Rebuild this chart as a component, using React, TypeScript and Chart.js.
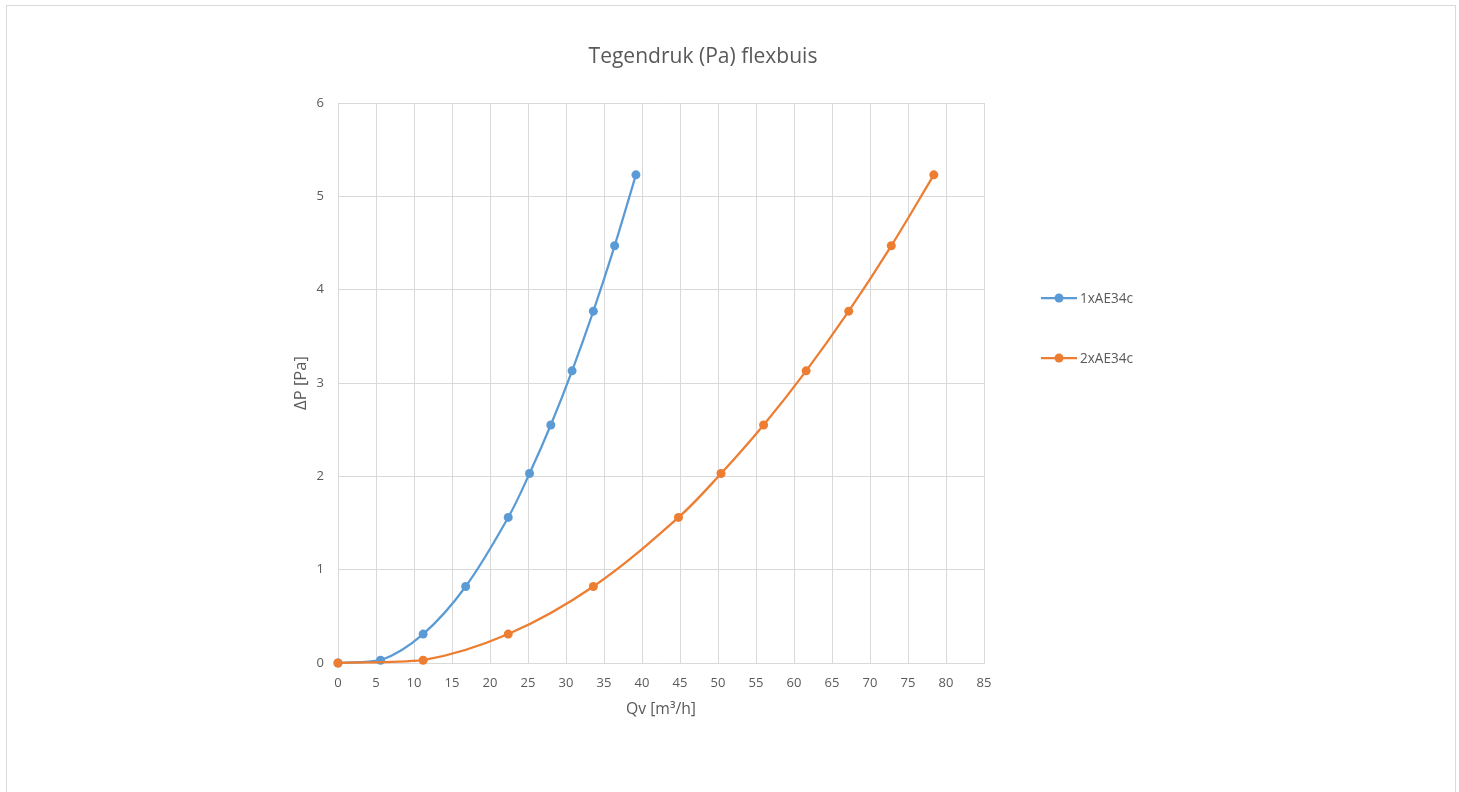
import React, { useEffect, useRef } from "react";
import { Chart, registerables } from "chart.js";

Chart.register(...registerables);

const chartTitle = "Tegendruk (Pa) flexbuis";
const xTitle = "Qv [m³/h]";
const yTitle = "ΔP [Pa]";
const seriesNames = ["1xAE34c", "2xAE34c"];
const seriesColors = ["#5b9bd5", "#ed7d31"];

const qv1 = [0, 5.6, 11.2, 16.8, 22.4, 25.2, 28.0, 30.8, 33.6, 36.4, 39.2];
const dp1 = [0, 0.03, 0.31, 0.82, 1.56, 2.03, 2.55, 3.13, 3.77, 4.47, 5.23];
const qv2 = [0, 11.2, 22.4, 33.6, 44.8, 50.4, 56.0, 61.6, 67.2, 72.8, 78.4];
const dp2 = [0, 0.03, 0.31, 0.82, 1.56, 2.03, 2.55, 3.13, 3.77, 4.47, 5.23];

const xMin = 0, xMax = 85, xStep = 5;
const yMin = 0, yMax = 6, yStep = 1;

const FONT = "'Open Sans', 'Liberation Sans', Arial, sans-serif";
const TEXT = "#595959";

const W = 1459, H = 792;
const AREA = { left: 338, right: 984, top: 103, bottom: 663 };

function fitFont(ctx: CanvasRenderingContext2D, text: string, target: number) {
  ctx.font = `20px ${FONT}`;
  const w = ctx.measureText(text).width;
  const size = (20 * target) / w;
  ctx.font = `${size}px ${FONT}`;
}

export default function App() {
  const ref = useRef<HTMLCanvasElement>(null);

  useEffect(() => {
    const canvas = ref.current!;
    const overlay = {
      id: "overlay",
      afterDraw(chart: any) {
        const ctx = chart.ctx as CanvasRenderingContext2D;
        const ca = chart.chartArea;
        ctx.save();
        ctx.fillStyle = TEXT;
        ctx.textAlign = "center";
        ctx.textBaseline = "middle";
        // title
        fitFont(ctx, chartTitle, 229);
        ctx.fillText(chartTitle, 703, 57);
        // axis titles
        fitFont(ctx, xTitle, 70);
        ctx.fillText(xTitle, (ca.left + ca.right) / 2, 710);
        ctx.save();
        ctx.translate(301, (ca.top + ca.bottom) / 2);
        ctx.rotate(-Math.PI / 2);
        fitFont(ctx, yTitle, 54);
        ctx.fillText(yTitle, 0, 0);
        ctx.restore();
        // legend
        const ly = [298, 358];
        seriesNames.forEach((name, i) => {
          const y = ly[i];
          ctx.strokeStyle = seriesColors[i];
          ctx.lineWidth = 2.25;
          ctx.beginPath();
          ctx.moveTo(1041, y);
          ctx.lineTo(1077, y);
          ctx.stroke();
          ctx.fillStyle = seriesColors[i];
          ctx.beginPath();
          ctx.arc(1059, y, 4.5, 0, Math.PI * 2);
          ctx.fill();
          ctx.fillStyle = TEXT;
          ctx.textAlign = "left";
          fitFont(ctx, name, 53);
          ctx.fillText(name, 1080, y + 1);
        });
        ctx.restore();
      },
    };

    const mk = (xs: number[], ys: number[]) => xs.map((x, i) => ({ x, y: ys[i] }));

    const chart = new Chart(canvas, {
      type: "line",
      data: {
        datasets: [
          {
            label: seriesNames[0],
            data: mk(qv1, dp1),
            borderColor: seriesColors[0],
            backgroundColor: seriesColors[0],
            borderWidth: 2.25,
            pointRadius: 4.5,
            pointBorderWidth: 0,
            tension: 0.35,
            fill: false,
            clip: false,
            order: 1,
          },
          {
            label: seriesNames[1],
            data: mk(qv2, dp2),
            borderColor: seriesColors[1],
            backgroundColor: seriesColors[1],
            borderWidth: 2.25,
            pointRadius: 4.5,
            pointBorderWidth: 0,
            tension: 0.35,
            fill: false,
            clip: false,
            order: 0,
          },
        ],
      },
      options: {
        responsive: false,
        animation: false,
        events: [],
        layout: {
          padding: { left: 0, top: AREA.top, right: W - AREA.right, bottom: 0 },
        },
        plugins: {
          legend: { display: false },
          title: { display: false },
          tooltip: { enabled: false },
        },
        scales: {
          x: {
            type: "linear",
            min: xMin,
            max: xMax,
            afterFit: (s: any) => {
              s.height = H - AREA.bottom;
            },
            ticks: {
              stepSize: xStep,
              color: TEXT,
              font: { family: FONT, size: 13 },
              padding: 12,
              maxRotation: 0,
            },
            grid: { color: "#d9d9d9", lineWidth: 1, drawTicks: false },
            border: { color: "#d9d9d9", width: 1 },
          },
          y: {
            type: "linear",
            min: yMin,
            max: yMax,
            afterFit: (s: any) => {
              s.width = AREA.left;
            },
            ticks: {
              stepSize: yStep,
              color: TEXT,
              font: { family: FONT, size: 13 },
              padding: 14,
            },
            grid: { color: "#d9d9d9", lineWidth: 1, drawTicks: false },
            border: { color: "#d9d9d9", width: 1 },
          },
        },
      },
      plugins: [overlay],
    } as any);
    return () => chart.destroy();
  }, []);

  return (
    <div style={{ position: "fixed", left: 0, top: 0, width: W, height: H, overflow: "hidden", background: "#fff" }}>
      <div
        style={{
          position: "absolute",
          left: 6,
          top: 5,
          width: 1450,
          height: 820,
          border: "1px solid #d9d9d9",
          boxSizing: "border-box",
        }}
      />
      <canvas ref={ref} width={W} height={H} style={{ position: "absolute", left: 0, top: 0, width: W, height: H }} />
    </div>
  );
}
